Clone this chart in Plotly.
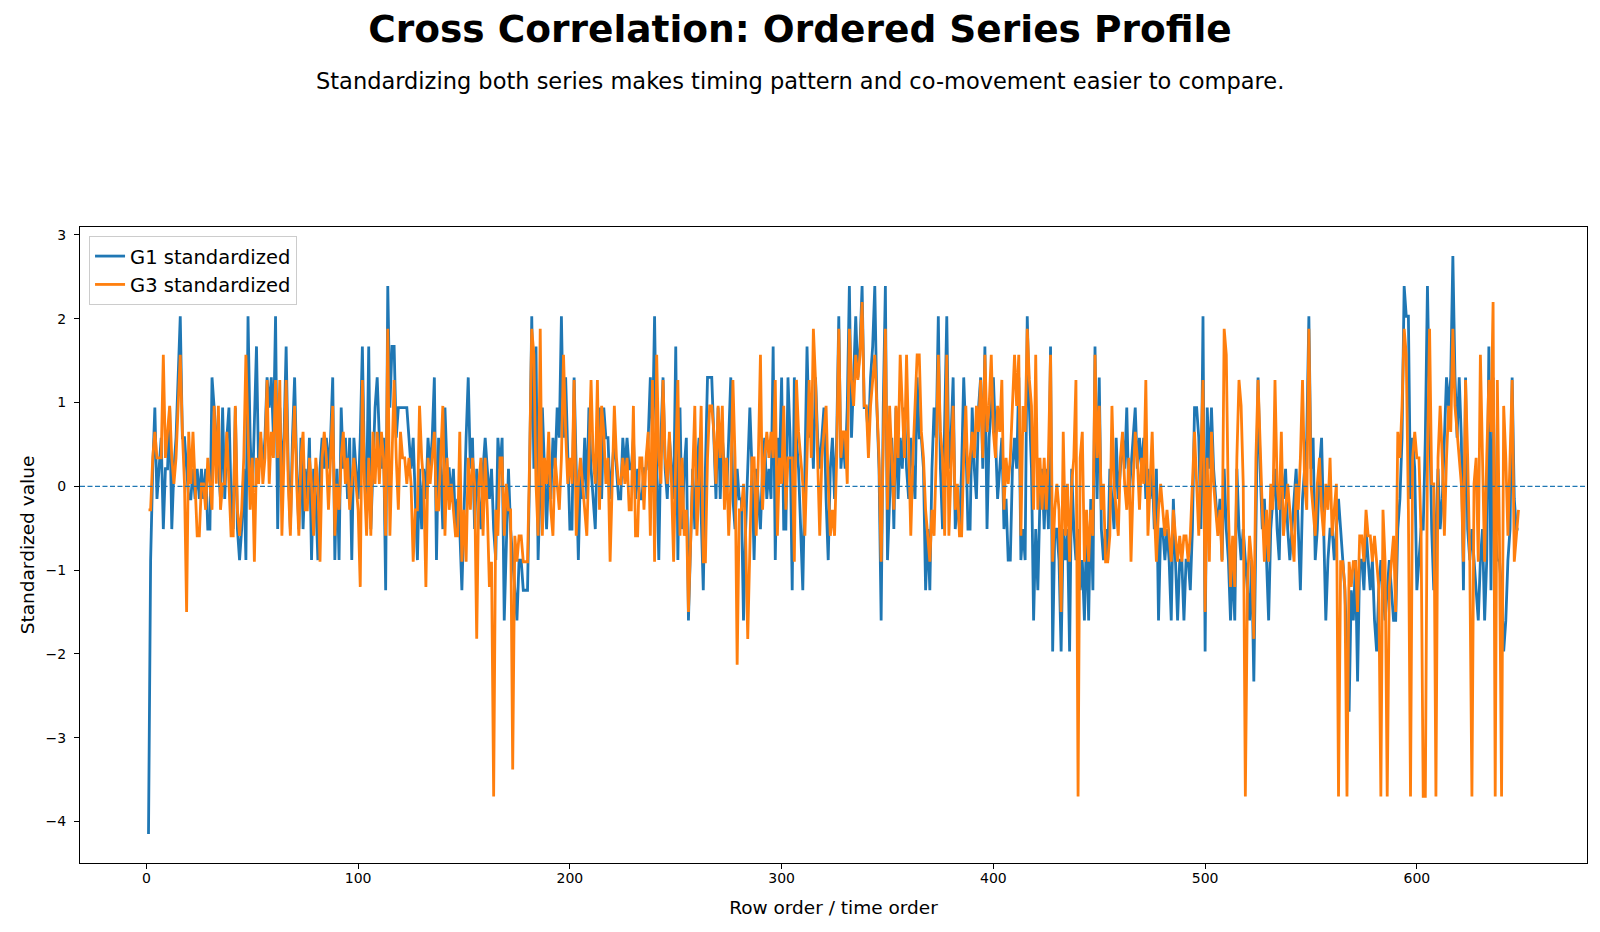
import plotly.graph_objects as go

# ---------------- data ----------------
title_text = "Cross Correlation: Ordered Series Profile"
subtitle_text = "Standardizing both series makes timing pattern and co-movement easier to compare."
x_label = "Row order / time order"
y_label = "Standardized value"
series_names = ["G1 standardized", "G3 standardized"]
x_ticks = [0, 100, 200, 300, 400, 500, 600]
y_ticks = [-4, -3, -2, -1, 0, 1, 2, 3]

g1_values = [
    -4.15,-0.88,0.21,0.94,-0.15,0.21,0.58,-0.51,0.21,0.21,0.94,-0.51,0.21,0.58,1.30,2.03,0.58,0.58,0.21,-0.15,-0.15,0.21,-0.15,0.21,-0.15,0.21,-0.15,0.21,-0.51,-0.51,1.30,0.94,0.58,0.21,-0.15,0.94,-0.15,0.58,0.94,-0.15,-0.51,0.94,-0.51,-0.88,-0.51,0.21,-0.88,2.03,0.58,-0.15,0.94,1.67,0.21,0.58,
    0.21,0.58,1.30,0.94,1.30,0.58,2.03,-0.51,0.94,0.21,0.58,1.67,0.21,-0.51,0.58,1.30,0.21,-0.51,0.58,-0.51,0.21,-0.15,0.58,-0.88,0.21,-0.15,-0.88,0.21,0.58,0.21,0.58,0.21,0.58,1.30,-0.88,0.21,-0.88,0.94,0.21,0.58,-0.15,0.58,-0.88,0.58,0.21,-0.15,0.58,1.67,0.21,-0.15,1.67,-0.51,0.21,0.94,
    1.30,0.58,0.21,0.58,-1.24,2.39,0.94,1.67,1.67,0.58,0.94,0.94,0.94,0.94,0.94,0.58,0.21,0.58,-0.15,-0.88,0.21,-0.51,0.21,-0.15,0.58,0.21,0.58,1.30,-0.88,0.58,0.21,-0.51,0.94,0.21,0.21,-0.15,0.21,-0.51,-0.15,-0.51,-1.24,-0.15,0.58,1.30,0.21,0.58,-0.51,0.21,-0.15,-0.51,0.21,0.58,0.21,-0.15,
    0.21,-0.51,-0.88,0.58,0.21,0.58,-1.60,-0.51,0.21,-0.51,-0.88,-1.24,-1.60,-0.88,-0.88,-1.24,-1.24,-1.24,0.21,2.03,0.21,1.67,-0.88,0.21,0.94,0.21,-0.51,0.21,-0.15,0.58,0.21,0.94,0.58,2.03,0.58,1.30,0.21,-0.51,-0.51,1.30,0.21,-0.88,0.21,-0.15,0.58,-0.15,0.94,0.21,-0.15,-0.51,0.58,0.94,-0.15,0.94,
    0.58,0.58,-0.15,0.21,0.58,0.21,-0.15,-0.15,0.58,0.21,0.58,0.21,0.21,0.58,-0.15,0.21,-0.15,-0.15,0.21,0.21,0.58,1.30,0.58,2.03,0.21,-0.88,0.58,1.30,0.21,-0.15,0.58,0.21,-0.15,1.67,-0.88,0.94,-0.51,0.21,0.58,-1.60,-0.51,0.21,-0.51,0.21,0.58,-0.51,-1.24,0.21,1.30,1.30,1.30,0.58,-0.15,0.94,
    -0.15,0.58,0.21,-0.15,0.58,1.30,-0.15,-0.51,0.21,-0.15,-0.15,-1.60,-0.51,0.21,0.94,0.21,-0.88,0.21,-0.15,-0.51,0.21,0.58,-0.15,0.21,-0.15,1.67,-0.88,0.58,0.21,1.30,-0.51,-0.51,1.30,0.58,-1.24,1.30,0.58,0.21,-0.51,-1.24,0.21,1.67,0.58,0.94,0.21,1.30,0.58,0.21,0.58,0.94,-0.15,-0.88,0.21,0.58,
    -0.15,0.58,2.03,0.21,0.58,0.21,0.94,2.39,0.58,1.30,2.03,1.30,1.67,2.39,0.94,0.94,0.58,1.30,1.67,2.39,0.94,0.21,-1.60,0.94,2.39,-0.88,-0.15,0.58,-0.51,0.94,-0.15,0.58,0.21,0.94,0.21,-0.15,0.58,0.21,-0.15,1.30,0.58,0.58,0.21,-1.24,-0.51,-1.24,0.21,0.94,0.58,2.03,0.21,-0.51,0.58,2.03,
    0.21,0.58,1.30,-0.51,-0.15,-0.51,0.21,1.30,0.58,-0.51,-0.51,0.94,0.21,-0.15,0.94,1.30,0.21,1.67,-0.51,0.58,0.94,1.30,0.58,-0.15,0.21,0.58,-0.51,-0.15,-0.88,-0.88,0.21,0.58,0.21,1.30,-0.88,-0.51,-0.88,2.03,0.94,0.21,-1.60,-0.51,-1.24,-0.15,0.21,-0.51,0.21,-0.51,1.67,-1.97,-0.51,-0.51,-0.88,-1.97,
    -0.51,-0.88,-0.51,-1.97,0.21,-0.51,-0.88,-0.51,-1.24,-0.88,-1.60,-0.51,-1.60,-0.15,-1.24,1.67,-0.15,1.30,-0.51,-0.88,-0.51,-0.88,0.21,-0.15,-0.51,0.58,-0.15,0.21,0.58,0.21,0.94,-0.15,0.21,0.58,0.94,0.21,0.58,0.21,0.58,-0.15,0.21,-0.15,0.21,-0.51,0.21,-1.60,-0.51,-0.51,-0.88,-0.51,-0.88,-1.60,-0.15,-0.88,
    -1.60,-0.88,-0.88,-1.60,-0.88,-0.88,-1.24,-0.51,0.94,0.94,0.58,-0.51,2.03,-1.97,0.94,0.21,0.94,0.21,-0.15,-0.51,-0.15,-0.88,0.21,-0.51,-0.88,-1.60,-0.88,-1.60,0.21,-0.51,-0.88,-0.51,-0.88,-1.24,-1.60,-0.88,-2.33,-0.51,1.30,0.21,-0.51,-0.15,-0.88,-1.60,-0.51,-0.15,0.21,-0.51,-0.88,0.21,-0.15,0.21,-0.51,-0.88,
    -0.51,-0.15,0.21,-0.51,-1.24,-0.15,0.21,0.58,2.03,0.21,0.58,-0.88,-0.51,0.21,0.58,-0.51,-1.60,-0.88,-0.51,-0.51,-0.88,-0.51,-0.15,-0.51,-0.88,-1.24,-1.97,-2.69,-1.24,-1.60,-0.88,-2.33,-0.88,-0.88,-1.24,-0.51,-0.88,-1.24,-0.88,-1.60,-1.97,-1.24,-0.88,-1.24,-1.60,-1.24,-0.88,-1.24,-1.60,-1.60,-0.51,-0.15,0.58,2.39,
    2.03,2.03,-0.15,0.58,0.21,-1.24,-0.88,-0.51,-0.51,0.58,2.39,0.94,-0.51,-1.24,-0.51,0.21,-0.51,-0.15,0.58,1.30,0.94,1.30,2.75,1.30,0.58,1.30,0.58,-1.24,1.30,-0.51,-0.88,-0.51,-0.88,-1.24,-1.60,-0.88,-0.51,-1.60,-0.88,1.67,-1.24,1.30,-0.51,-0.88,-0.88,-1.24,-1.97,-1.60,-0.88,-0.51,1.30,-0.15,-0.51,-0.51,
]

g3_values = [
    -0.28,-0.28,0.34,0.65,0.34,0.34,0.34,1.57,0.34,0.65,0.96,0.34,0.03,0.34,0.96,1.57,0.65,0.03,-1.50,0.65,0.03,0.65,0.03,-0.59,-0.59,0.03,0.03,-0.28,0.34,0.03,-0.28,0.96,0.03,0.96,-0.28,0.03,0.03,0.65,0.03,-0.59,-0.59,0.96,-0.28,-0.59,-0.28,0.34,1.57,0.65,-0.28,0.34,-0.90,0.34,0.03,0.65,
    0.03,0.34,1.27,0.03,0.65,0.34,1.27,0.34,1.27,-0.59,0.34,1.27,0.03,-0.59,0.34,0.96,0.03,-0.59,0.34,0.65,-0.28,-0.28,0.34,0.03,-0.59,0.34,0.03,-0.90,0.34,0.65,0.34,-0.28,0.34,0.96,-0.59,0.03,-0.28,0.34,0.65,0.03,0.34,-0.28,0.03,0.34,0.03,-0.28,-1.20,1.27,0.03,-0.59,0.34,-0.59,0.65,0.03,
    0.65,0.03,0.65,0.34,-0.59,1.88,-0.59,0.34,1.27,0.34,-0.28,0.65,0.34,0.34,0.03,0.34,0.03,-0.90,-0.28,-0.28,0.96,0.34,0.03,-1.20,0.34,0.03,0.34,0.65,-0.28,-0.28,0.34,0.96,-0.59,0.34,-0.28,0.03,-0.28,-0.59,-0.59,0.65,-0.90,-0.28,-0.90,0.34,-0.28,0.34,0.03,-1.82,0.03,0.34,-0.59,0.34,-0.28,-1.20,
    -0.90,-3.70,-0.28,-0.59,0.34,0.34,-0.59,0.03,-0.28,-0.28,-3.38,-0.59,-0.90,-0.59,-0.59,-0.90,-0.90,-0.90,0.34,1.88,1.57,0.03,-0.59,1.88,-0.59,0.34,0.03,0.65,-0.28,-0.59,0.34,0.03,-0.28,0.34,1.57,0.65,0.03,0.34,0.03,1.27,-0.59,0.03,0.34,0.03,-0.28,-0.59,0.34,1.27,0.34,0.03,1.27,-0.28,0.96,0.65,
    0.03,0.34,-0.90,0.03,0.96,0.34,0.03,0.03,0.34,0.03,0.34,-0.28,-0.28,0.96,-0.59,-0.59,0.34,0.34,-0.28,0.34,0.65,-0.59,1.27,-0.90,1.57,0.34,0.03,1.27,0.34,0.03,0.65,0.03,-0.90,0.34,1.27,-0.59,0.34,-0.59,-0.28,-1.50,-0.59,0.34,0.96,-0.59,0.03,0.96,-0.90,-0.90,0.34,0.96,0.96,0.65,0.03,0.96,
    0.34,0.96,-0.28,0.34,-0.59,0.03,1.27,0.34,-2.13,-0.28,-0.28,0.03,-0.59,-1.82,-0.59,0.34,0.34,-0.59,0.34,1.57,-0.28,0.34,0.65,0.34,0.65,0.34,1.27,-0.59,0.34,0.03,0.96,-0.28,0.34,0.34,0.34,-0.90,1.27,0.65,0.34,0.03,-0.59,0.34,1.27,0.34,1.88,1.27,0.34,-0.59,0.34,0.65,0.96,0.03,-0.59,-0.28,
    -0.59,0.34,1.88,0.34,0.65,0.65,0.03,1.88,1.27,0.96,1.57,1.27,1.57,2.20,0.96,0.96,0.34,0.96,1.27,1.57,0.96,0.34,-0.90,0.65,1.88,-0.28,0.96,0.34,-0.28,0.96,0.34,1.57,0.96,0.34,1.57,0.34,-0.59,0.34,0.96,1.57,1.57,0.65,0.34,-0.28,-0.59,-0.90,-0.28,-0.59,0.34,1.57,0.65,0.34,-0.59,1.57,
    -0.59,0.34,0.96,-0.28,0.03,-0.59,-0.59,0.34,0.96,0.03,0.34,0.65,0.34,0.96,0.65,1.27,0.34,1.57,0.65,0.96,1.57,0.65,0.34,0.96,0.65,1.27,-0.28,0.34,0.03,0.34,0.96,1.57,0.96,1.57,-0.59,0.96,0.65,1.88,1.27,0.96,-0.28,1.57,-0.28,0.34,-0.28,0.34,-0.28,0.34,1.57,-0.90,-0.28,0.03,-0.28,-1.50,
    0.65,-0.59,0.03,-0.90,0.03,0.34,1.27,-3.70,0.34,0.65,-0.90,-0.28,-0.90,-0.28,-0.59,1.57,0.34,0.96,-0.28,0.03,-0.90,-0.90,-0.59,0.96,0.03,-0.28,-0.59,0.34,0.65,0.03,-0.28,0.34,-0.90,0.03,0.65,0.34,-0.28,0.34,0.03,1.27,-0.59,0.03,0.65,-0.28,-0.90,-0.28,0.03,-0.28,-0.59,-0.28,-0.59,-0.90,-0.28,-0.59,
    -0.90,-0.59,-0.90,-0.59,-0.59,-0.90,-0.59,0.03,0.65,0.03,-0.59,0.34,1.27,-1.50,0.34,-0.90,0.65,0.03,-0.28,-0.59,-0.28,-0.90,1.88,1.57,-0.28,-1.20,-0.59,-1.20,0.34,1.27,0.96,0.03,-3.70,-1.20,-0.59,-0.90,-1.82,0.34,1.27,0.34,-0.28,-0.90,-0.28,-0.90,0.03,-0.28,1.27,0.03,-0.28,0.65,-0.59,-0.28,0.03,-0.28,
    -0.59,-0.90,0.03,-0.28,0.34,1.27,0.03,-0.28,1.88,0.03,-0.28,-0.59,0.03,0.34,-0.28,-0.59,0.03,-0.28,0.34,-0.59,-0.28,0.03,-3.70,-0.90,-0.90,-1.20,-3.70,-0.90,-1.20,-0.90,-0.90,-1.50,-0.59,-0.59,-0.90,-0.28,-0.59,-0.59,-0.90,-0.59,-0.90,-1.20,-3.70,-0.28,-0.90,-3.70,-1.20,-0.90,-0.59,-1.50,0.65,0.34,0.96,1.88,
    1.57,-0.28,-3.70,0.34,0.65,0.34,0.34,-0.59,-3.70,-3.70,0.34,1.88,0.03,0.03,-3.70,0.34,0.96,0.34,-0.59,0.34,0.96,0.65,1.88,0.96,0.65,0.34,0.03,-0.90,1.27,0.34,-0.90,-3.70,0.03,0.34,-0.90,1.57,0.34,-0.90,0.34,1.27,0.65,2.20,-3.70,1.27,-0.59,-3.70,0.96,0.34,-0.59,0.34,1.27,-0.90,-0.59,-0.28,
]

x_g1 = list(range(1, len(g1_values) + 1))
x_g3 = list(range(1, len(g3_values) + 1))

# ---------------- figure ----------------
W, H = 1600, 932
ML, MR, MT, MB = 80, 13, 227, 69

def padded(lo, hi, frac=0.05):
    span = hi - lo
    return [lo - frac * span, hi + frac * span]

all_x = x_g1 + x_g3
all_y = g1_values + g3_values
x_range = padded(min(all_x), max(all_x))
y_range = padded(min(all_y), max(all_y))

fig = go.Figure()
fig.add_trace(go.Scatter(x=x_g1, y=g1_values, mode="lines", name=series_names[0],
                         line=dict(color="#1f77b4", width=2.8)))
fig.add_trace(go.Scatter(x=x_g3, y=g3_values, mode="lines", name=series_names[1],
                         line=dict(color="#ff7f0e", width=2.8)))
fig.add_hline(y=0, line=dict(color="#1f77b4", width=1.4, dash="5px,2.5px"))

axis_common = dict(
    showgrid=False, zeroline=False, showline=True, linecolor="black", linewidth=1,
    mirror=True, ticks="outside", ticklen=5, tickwidth=1, tickcolor="black",
    tickfont=dict(size=14, color="black"),
)

fig.update_layout(
    width=W, height=H,
    margin=dict(l=ML, r=MR, t=MT, b=MB),
    paper_bgcolor="white", plot_bgcolor="white",
    font=dict(family="DejaVu Sans", color="black"),
    title=dict(text="<b>" + title_text + "</b>", x=0.5, xref="container", xanchor="center",
               y=1 - 29 / H, yref="container", yanchor="middle",
               font=dict(size=37.5, color="black")),
    xaxis=dict(range=x_range, tickvals=x_ticks, ticklabelstandoff=-3,
               title=dict(text=x_label, font=dict(size=18.5), standoff=16), **axis_common),
    yaxis=dict(range=y_range, tickvals=y_ticks, ticklabelstandoff=5,
               title=dict(text=y_label, font=dict(size=18.5), standoff=6), **axis_common),
    legend=dict(x=0.006, y=0.986, xanchor="left", yanchor="top",
                bgcolor="rgba(255,255,255,0.8)", bordercolor="#cccccc", borderwidth=1,
                font=dict(size=19.5, color="black"), tracegroupgap=0),
    showlegend=True,
)

plot_w = W - ML - MR
fig.add_annotation(text=subtitle_text, xref="paper", yref="paper",
                   x=(W / 2 - ML) / plot_w, y=1 + (MT - 81) / (H - MT - MB),
                   xanchor="center", yanchor="middle", showarrow=False,
                   font=dict(size=22.5, color="black"))

fig.write_html("out.html")
